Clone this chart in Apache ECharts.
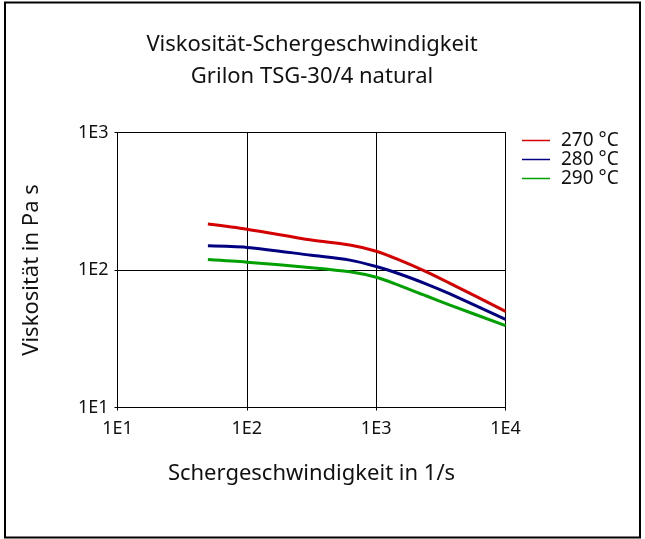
<!DOCTYPE html>
<html>
<head>
<meta charset="utf-8">
<script src="https://cdn.jsdelivr.net/npm/echarts@6/dist/echarts.min.js"></script>
<style>
  html, body { margin: 0; padding: 0; background: #fff; }
  #chart { width: 645px; height: 539px; }
</style>
</head>
<body>
<div id="chart"></div>
<script>
// Schergeschwindigkeit (1/s)
const shearRates = [50, 100, 316, 625, 1000, 1520, 2450, 3720, 10000];
// Viskosität (Pa s)
const visc270 = [216, 198, 165, 152, 137, 118, 97, 80, 50];
const visc280 = [150, 146, 128, 118, 106, 93.5, 79, 67, 43.8];
const visc290 = [119, 114, 104, 97, 88.5, 77, 64.7, 55.6, 39.4];
const seriesNames = ['270 °C', '280 °C', '290 °C'];
const seriesColors = ['#d40000', '#000080', '#00a000'];

const fontFamily = '"Noto Sans", "Open Sans", sans-serif';

function pairs(ys) {
  return shearRates.map((x, i) => [x, ys[i]]);
}

function expLabel(v) {
  return '1E' + Math.round(Math.log10(v));
}

const chart = echarts.init(document.getElementById('chart'));

const option = {
  animation: false,
  backgroundColor: '#fff',
  textStyle: { fontFamily: fontFamily },
  graphic: [{
    type: 'rect',
    shape: { x: 5, y: 2.5, width: 635, height: 535 },
    style: { fill: 'none', stroke: '#000', lineWidth: 2 },
    silent: true
  }],
  title: {
    text: 'Viskosität-Schergeschwindigkeit\nGrilon TSG-30/4 natural',
    left: 307,
    top: 24,
    textAlign: 'center',
    textStyle: { fontSize: 22, fontWeight: 'normal', color: '#111', lineHeight: 32, fontFamily: fontFamily }
  },
  legend: {
    orient: 'vertical',
    left: 517,
    top: 126,
    itemWidth: 28,
    itemHeight: 1.5,
    itemGap: 0,
    icon: 'rect',
    data: seriesNames,
    textStyle: { fontSize: 19, lineHeight: 19, color: '#111', fontFamily: fontFamily, padding: [0, 0, 0, 6] }
  },
  grid: {
    left: 117.5,
    right: 139.5,
    top: 132.5,
    bottom: 131.5,
    show: true,
    borderColor: '#000',
    borderWidth: 1
  },
  xAxis: {
    type: 'log',
    logBase: 10,
    min: 10,
    max: 10000,
    name: 'Schergeschwindigkeit in 1/s',
    nameLocation: 'middle',
    nameGap: 55,
    nameTextStyle: { fontSize: 22, color: '#111', fontFamily: fontFamily },
    axisLine: { lineStyle: { color: '#000', width: 1 } },
    axisTick: { show: true, length: 3, lineStyle: { color: '#000' } },
    minorTick: { show: false },
    axisLabel: { fontSize: 18, color: '#111', margin: 12, formatter: expLabel },
    splitLine: { show: true, lineStyle: { color: '#000', width: 1 } }
  },
  yAxis: {
    type: 'log',
    logBase: 10,
    min: 10,
    max: 1000,
    name: 'Viskosität in Pa s',
    nameLocation: 'middle',
    nameGap: 75,
    nameTextStyle: { fontSize: 22, color: '#111', fontFamily: fontFamily },
    axisLine: { show: true, lineStyle: { color: '#000', width: 1 } },
    axisTick: { show: true, length: 3, lineStyle: { color: '#000' } },
    axisLabel: { fontSize: 18, color: '#111', margin: 9, formatter: expLabel },
    splitLine: { show: true, lineStyle: { color: '#000', width: 1 } }
  },
  series: [visc270, visc280, visc290].map((ys, i) => ({
    name: seriesNames[i],
    type: 'line',
    data: pairs(ys),
    smooth: 0.3,
    symbol: 'none',
    color: seriesColors[i],
    lineStyle: { width: 3, color: seriesColors[i] },
    z: 3 + (2 - i)
  }))
};

chart.setOption(option);
</script>
</body>
</html>
